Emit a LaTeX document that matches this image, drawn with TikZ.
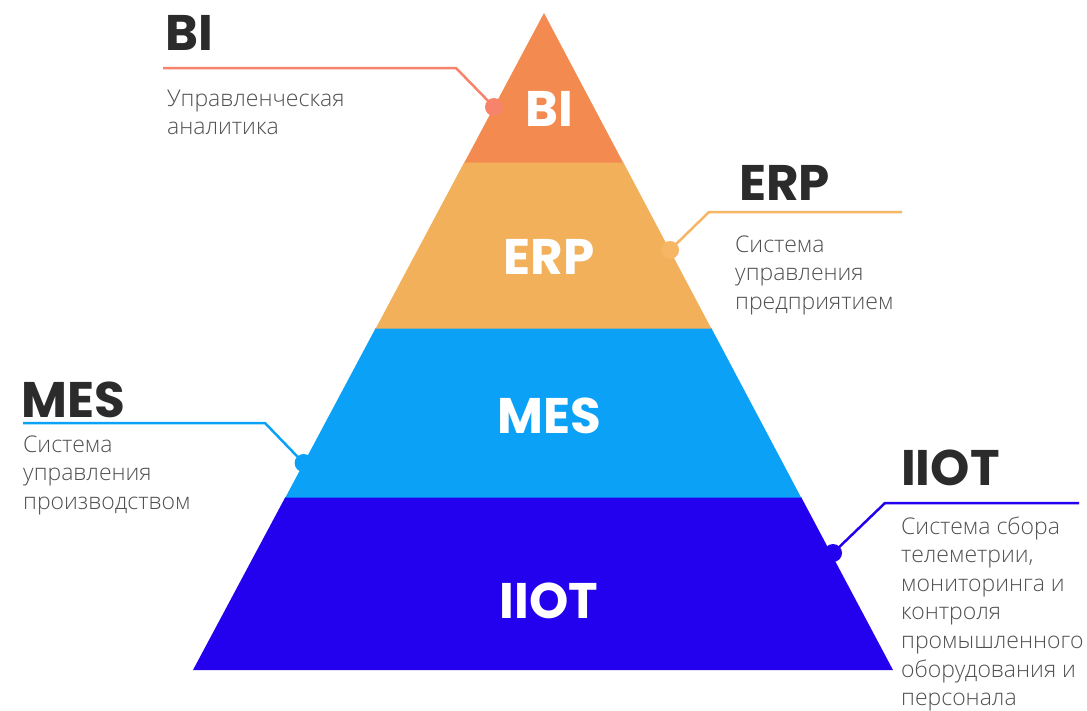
\documentclass[tikz,border=0pt]{standalone}
\usepackage{fontspec}
\newfontfamily\titlefont{Poppins}
\newfontfamily\bodyfont{Open Sans}[UprightFont={* Light}]
\newcommand\stackedlines[1]{\vtop{\baselineskip=28.6pt\lineskiplimit=-20pt\relax #1}}
\definecolor{cBI}{HTML}{F38A4F}
\definecolor{cERP}{HTML}{F3B05B}
\definecolor{cMES}{HTML}{0AA1F7}
\definecolor{cIIOT}{HTML}{2300EE}
\definecolor{lBI}{HTML}{F7836B}
\definecolor{lERP}{HTML}{F6B663}
\definecolor{ttl}{HTML}{2B2B2B}
\definecolor{bodytxt}{HTML}{505050}
\tikzset{
  band/.style={draw=none},
  bandlabel/.style={anchor=base, inner sep=0pt, text=white, font=\titlefont\bfseries\fontsize{50}{50}\selectfont},
  titlelabel/.style={anchor=base west, inner sep=0pt, text=ttl, font=\titlefont\bfseries\fontsize{50}{50}\selectfont},
  desc/.style={anchor=base west, inner sep=0pt, text=bodytxt, font=\bodyfont\fontsize{23}{28.6}\selectfont},
  dotnode/.style={circle, inner sep=0pt, minimum size=18pt},
  conn/.style={line width=2.5pt, line join=round}
}
\begin{document}
\begin{tikzpicture}[x=1pt,y=-1pt]
\useasboundingbox (0,0) rectangle (1087,710);
% bands
\fill[cIIOT] (285.4,497) -- (801.1,497) -- (893,670) -- (193,670) -- cycle;
\fill[cMES] (375.7,328) -- (711.3,328) -- (801.1,497.5) -- (285.4,497.5) -- cycle;
\fill[cERP] (464.4,162) -- (623.1,162) -- (711.3,328.5) -- (375.7,328.5) -- cycle;
\fill[cBI] (544,13) -- (623.1,162.5) -- (464.4,162.5) -- cycle;
% band labels
\node[bandlabel] (bandBI) at (549,126) {BI};
\node[bandlabel] (bandERP) at (549,274) {ERP};
\node[bandlabel] (bandMES) at (549,433) {MES};
\node[bandlabel] (bandIIOT) at (549,618) {IIOT};
% titles
\node[titlelabel] (tBI) at (165,50) {BI};
\node[titlelabel] (tERP) at (739,200) {ERP};
\node[titlelabel] (tMES) at (21,417) {MES};
\node[titlelabel] (tIIOT) at (901,485) {IIOT};
% descriptions
\node[desc] (dBI) at (167,106) {\stackedlines{\hbox{Управленческая}\hbox{аналитика}}};
\node[desc] (dERP) at (735,252) {\stackedlines{\hbox{Система}\hbox{управления}\hbox{предприятием}}};
\node[desc] (dMES) at (23,452) {\stackedlines{\hbox{Система}\hbox{управления}\hbox{производством}}};
\node[desc] (dIIOT) at (901,534) {\stackedlines{\hbox{Система сбора}\hbox{телеметрии,}\hbox{мониторинга и}\hbox{контроля}\hbox{промышленного}\hbox{оборудования и}\hbox{персонала}}};
% connectors
\node[dotnode, fill=lBI] (pBI) at (494,107) {};
\coordinate (kBI) at (456,68);
\coordinate (eBI) at (163,68);
\draw[conn, lBI] (pBI.center) -- (kBI) -- (eBI);
\node[dotnode, fill=lERP] (pERP) at (670,250) {};
\coordinate (kERP) at (709,212);
\coordinate (eERP) at (902,212);
\draw[conn, lERP] (pERP.center) -- (kERP) -- (eERP);
\node[dotnode, fill=cMES] (pMES) at (303.6,463) {};
\coordinate (kMES) at (265,423);
\coordinate (eMES) at (23,423);
\draw[conn, cMES] (pMES.center) -- (kMES) -- (eMES);
\node[dotnode, fill=cIIOT] (pIIOT) at (833,553) {};
\coordinate (kIIOT) at (885,503);
\coordinate (eIIOT) at (1079,503);
\draw[conn, cIIOT] (pIIOT.center) -- (kIIOT) -- (eIIOT);
\end{tikzpicture}
\end{document}
